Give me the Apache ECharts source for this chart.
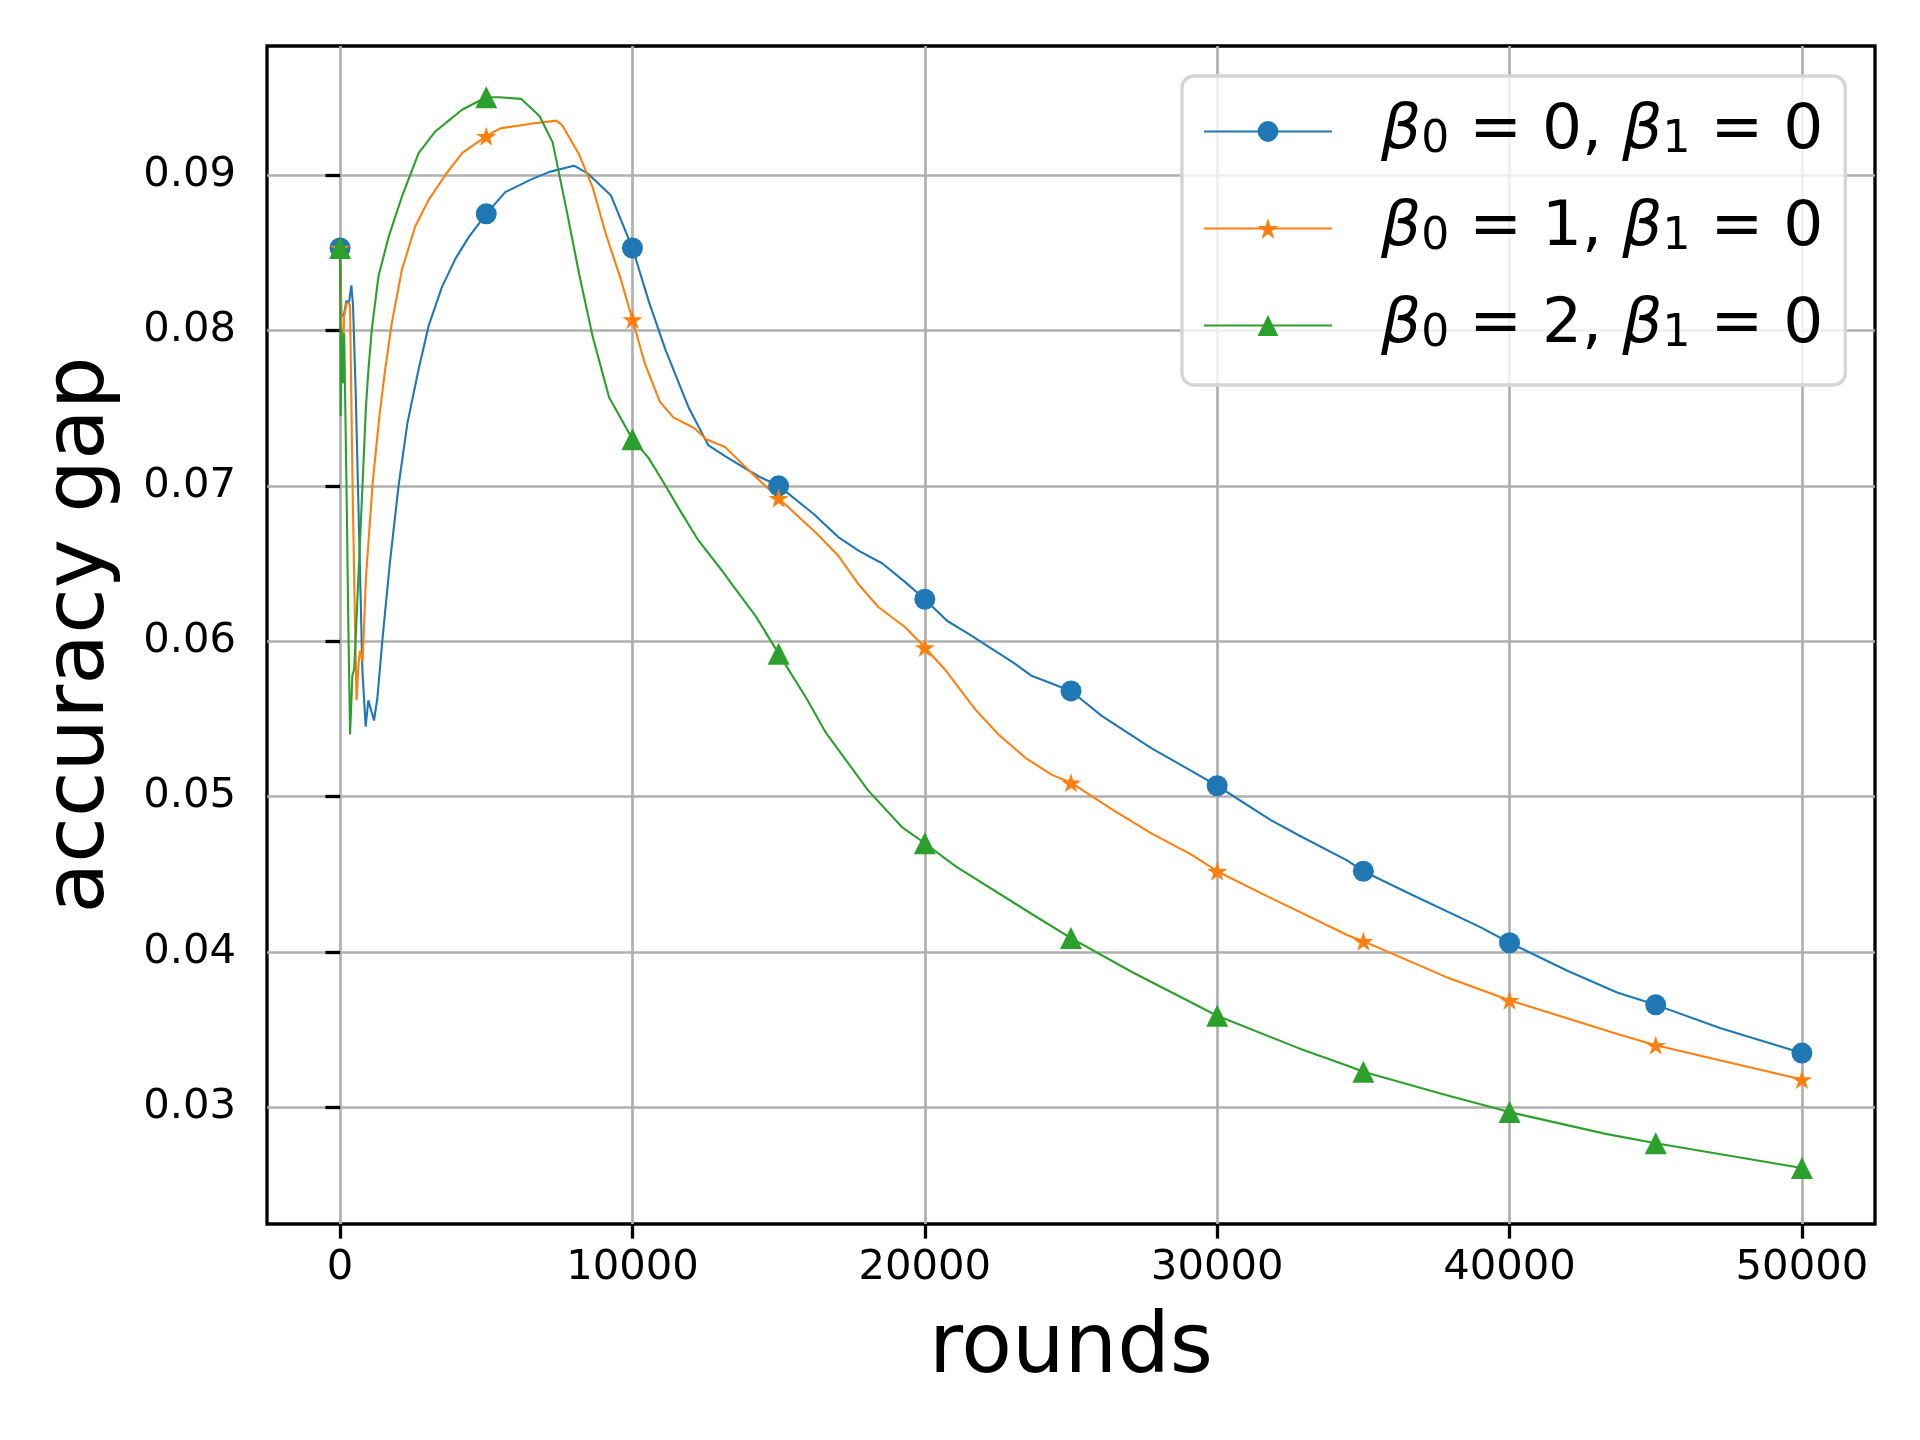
<!DOCTYPE html>
<html>
<head>
<meta charset="utf-8">
<title>accuracy gap vs rounds</title>
<script src="https://cdn.jsdelivr.net/npm/echarts@6/dist/echarts.min.js"></script>
<style>
  html, body { margin: 0; padding: 0; background: #fff; }
  #chart { width: 1920px; height: 1440px; }
</style>
</head>
<body>
<div id="chart"></div>
<script>
// values
var rounds0 = [0, 45, 130, 216, 307, 386, 443, 534, 648, 761, 875, 966, 1160, 1273, 1443, 1700, 2000, 2300, 2686, 3029,
  3486, 3943, 4400, 5000, 5650, 6520, 7160, 8000, 8470, 9260, 10000, 10570, 11140, 11930, 12600, 13180, 14320, 15000,
  16190, 17040, 17760, 18550, 19330, 20000, 20770, 21470, 23040, 23630, 25000, 26050, 27760, 29070, 30000, 31820,
  32805, 34440, 35000, 36640, 39000, 40000, 41980, 43680, 45000, 47220, 50000];
var gap0 = [0.0853, 0.0809, 0.0810, 0.0819, 0.0818, 0.0829, 0.0816, 0.0760, 0.0671, 0.0582, 0.0545, 0.0562, 0.0549,
  0.0563, 0.0600, 0.0650, 0.0700, 0.0740, 0.0775, 0.0803, 0.0828, 0.0846, 0.0860, 0.0875, 0.0889, 0.0897, 0.0902,
  0.0906, 0.0901, 0.0887, 0.0853, 0.0818, 0.0787, 0.0750, 0.0726, 0.0719, 0.0706, 0.0700, 0.0682, 0.0667, 0.0658,
  0.0650, 0.0638, 0.0627, 0.0613, 0.0605, 0.0586, 0.0578, 0.0568, 0.0552, 0.0531, 0.0517, 0.0507, 0.0485, 0.0475,
  0.0459, 0.0452, 0.0437, 0.0416, 0.0406, 0.0388, 0.0374, 0.0366, 0.0351, 0.0335];

var rounds1 = [0, 46, 80, 138, 218, 287, 340, 425, 517, 563, 632, 690, 770, 885, 1115, 1345, 1543, 1771, 2114, 2571,
  3029, 3600, 4171, 5000, 5480, 6520, 7390, 7600, 8180, 8640, 9090, 9600, 10000, 10420, 10940, 11400, 12120, 12520,
  13170, 14090, 15000, 16320, 17040, 17760, 18410, 19330, 20000, 20680, 21730, 22520, 23440, 24350, 25000, 26470,
  27780, 29090, 30000, 31700, 32805, 34440, 35000, 37820, 40000, 43550, 45000, 50000];
var gap1 = [0.0853, 0.0801, 0.0766, 0.0809, 0.0817, 0.0818, 0.0816, 0.0702, 0.0604, 0.0562, 0.0586, 0.0594, 0.0587,
  0.0641, 0.0702, 0.0745, 0.0775, 0.0805, 0.0839, 0.0867, 0.0884, 0.0900, 0.0914, 0.0925, 0.0930, 0.0933, 0.0935,
  0.0932, 0.0913, 0.0892, 0.0862, 0.0833, 0.0807, 0.0779, 0.0754, 0.0744, 0.0737, 0.0730, 0.0725, 0.0708, 0.0692,
  0.0669, 0.0655, 0.0636, 0.0622, 0.0609, 0.0596, 0.0582, 0.0556, 0.0540, 0.0525, 0.0514, 0.0509, 0.0491, 0.0476,
  0.0463, 0.0452, 0.0436, 0.0426, 0.0411, 0.0407, 0.0384, 0.0369, 0.0348, 0.0340, 0.0318];

var rounds2 = [0, 20, 46, 92, 138, 218, 287, 341, 420, 483, 655, 885, 970, 1086, 1314, 1657, 2114, 2686, 3257, 3714,
  4171, 5000, 5450, 6190, 6820, 7270, 7730, 8180, 8640, 9200, 10000, 10550, 11070, 11600, 12250, 13040, 13430, 14220,
  15000, 15960, 16620, 18060, 19240, 20000, 21070, 23700, 25000, 27100, 30000, 32805, 34440, 35000, 37820, 40000,
  43290, 45000, 50000];
var gap2 = [0.0853, 0.0745, 0.0801, 0.0766, 0.0798, 0.0702, 0.0604, 0.0540, 0.0578, 0.0582, 0.0653, 0.0751, 0.0775,
  0.0801, 0.0835, 0.0860, 0.0886, 0.0914, 0.0928, 0.0935, 0.0942, 0.0950, 0.0950, 0.0949, 0.0938, 0.0921, 0.0879,
  0.0836, 0.0796, 0.0757, 0.0730, 0.0718, 0.0702, 0.0685, 0.0665, 0.0646, 0.0636, 0.0616, 0.0592, 0.0563, 0.0541,
  0.0504, 0.0480, 0.0470, 0.0455, 0.0424, 0.0409, 0.0387, 0.0359, 0.0338, 0.0327, 0.0323, 0.0308, 0.0297, 0.0283,
  0.0277, 0.0261];

var beta0 = [0, 1, 2];
var beta1 = [0, 0, 0];
var markerRounds = [0, 5000, 10000, 15000, 20000, 25000, 30000, 35000, 40000, 45000, 50000];
var xTicks = [0, 10000, 20000, 30000, 40000, 50000];
var yTicks = [0.03, 0.04, 0.05, 0.06, 0.07, 0.08, 0.09];

var colors = ['#1f77b4', '#ff7f0e', '#2ca02c'];
var STAR = 'path://M0,-1L0.2245,-0.309L0.951,-0.309L0.363,0.118L0.588,0.809L0,0.382L-0.588,0.809L-0.363,0.118L-0.951,-0.309L-0.2245,-0.309Z';
var symbols = ['circle', STAR, 'triangle'];
var symbolSizes = [21, 20, 22];
var FONT = 'DejaVu Sans';

function pairs(xs, ys) {
  return xs.map(function (x, i) { return [x, ys[i]]; });
}

var allRounds = [rounds0, rounds1, rounds2];
var allGaps = [gap0, gap1, gap2];

var names = beta0.map(function (b, i) { return 'β0 = ' + b + ', β1 = ' + beta1[i]; });

var series = names.map(function (name, i) {
  return {
    name: name,
    type: 'line',
    data: pairs(allRounds[i], allGaps[i]),
    symbol: symbols[i],
    symbolKeepAspect: true,
    showSymbol: true,
    showAllSymbol: true,
    // markers only every 5000 rounds
    symbolSize: function (v) {
      return markerRounds.indexOf(v[0]) >= 0 ? symbolSizes[i] : 0;
    },
    lineStyle: { width: 2.1, color: colors[i] },
    itemStyle: { color: colors[i] },
    emphasis: { disabled: true },
    animation: false
  };
});

var chart = echarts.init(document.getElementById('chart'));

var option = {
  backgroundColor: '#ffffff',
  animation: false,
  grid: {
    left: 267, right: 45, top: 46, bottom: 216,
    show: true, borderColor: '#000000', borderWidth: 3.3, backgroundColor: 'transparent'
  },
  xAxis: {
    type: 'value',
    min: -2500,
    max: 52500,
    name: 'rounds',
    nameLocation: 'middle',
    nameGap: 85,
    nameTextStyle: { fontFamily: FONT, fontSize: 83, color: '#000' },
    axisLine: { show: false },
    axisTick: { show: true, customValues: xTicks, length: 14.6, lineStyle: { color: '#000', width: 3.3 } },
    axisLabel: {
      customValues: xTicks, margin: 23, fontFamily: FONT, fontSize: 41.7, color: '#000',
      formatter: function (v) { return String(v); }
    },
    splitLine: { show: true, lineStyle: { color: '#b0b0b0', width: 2.7 } }
  },
  yAxis: {
    type: 'value',
    min: 0.0225,
    max: 0.0983,
    name: 'accuracy gap',
    nameLocation: 'middle',
    nameGap: 144,
    nameTextStyle: { fontFamily: FONT, fontSize: 83, color: '#000' },
    axisLine: { show: false },
    axisTick: { show: true, customValues: yTicks, length: 14.6, lineStyle: { color: '#000', width: 3.3 } },
    axisLabel: {
      customValues: yTicks, margin: 31, fontFamily: FONT, fontSize: 41.7, color: '#000',
      formatter: function (v) { return v.toFixed(2); }
    },
    splitLine: { show: true, lineStyle: { color: '#b0b0b0', width: 2.7 } }
  },
  legend: {
    orient: 'vertical',
    left: 1182,
    top: 76,
    padding: [24, 22, 28, 21],
    itemGap: 34,
    itemWidth: 128,
    itemHeight: 26,
    backgroundColor: 'rgba(255,255,255,0.8)',
    borderColor: '#d5d5d5',
    borderWidth: 3.3,
    borderRadius: 12,
    selectedMode: false,
    data: names,
    formatter: function (name) {
      var i = names.indexOf(name);
      return '{sp| }{b|β}{s|0}{t| = ' + beta0[i] + ', }{b|β}{s|1}{t| = ' + beta1[i] + '}';
    },
    textStyle: {
      color: '#000',
      fontFamily: FONT,
      rich: {
        sp: { width: 44, fontSize: 62, lineHeight: 62 },
        b: { fontFamily: FONT, fontStyle: 'italic', fontSize: 63, lineHeight: 62, color: '#000' },
        s: { fontFamily: FONT, fontSize: 44, lineHeight: 29, verticalAlign: 'bottom', color: '#000' },
        t: { fontFamily: FONT, fontSize: 63, lineHeight: 62, color: '#000' }
      }
    }
  },
  series: series
};

chart.setOption(option);
</script>
</body>
</html>
